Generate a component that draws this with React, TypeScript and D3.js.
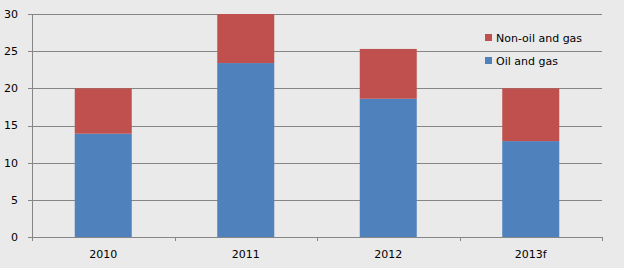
import React from "react";
import * as d3 from "d3";

const categories = ["2010", "2011", "2012", "2013f"];
const oilAndGas = [13.9, 23.4, 18.6, 12.9];
const nonOilAndGas = [6.1, 6.6, 6.7, 7.1];
const yTicks = [0, 5, 10, 15, 20, 25, 30];
const seriesNames = ["Oil and gas", "Non-oil and gas"];
const seriesColors = ["#4F81BD", "#C0504D"];

const W = 624;
const H = 268;
const left = 32;
const right = 602;
const top = 14;
const bottom = 237;
const font = "Tahoma, 'DejaVu Sans', sans-serif";

export default function App() {
  const x = d3.scaleBand<string>().domain(categories).range([left, right]).paddingInner(0.6).paddingOuter(0.3);
  const xEdge = d3.scaleLinear().domain([0, categories.length]).range([left, right]);
  const y = d3.scaleLinear().domain([0, 30]).range([bottom, top]);

  const rows = categories.map((c, i) => ({ cat: c, oil: oilAndGas[i], non: nonOilAndGas[i] }));
  const stack = d3.stack<any>().keys(["oil", "non"])(rows);

  return (
    <svg width={W} height={H} style={{ position: "absolute", left: 0, top: 0, display: "block" }}>
      <rect x={0} y={0} width={W} height={H} fill="#EAEAEA" />
      {yTicks.map((t) => (
        <g key={t}>
          <line x1={28} x2={right} y1={Math.round(y(t)) + 0.5} y2={Math.round(y(t)) + 0.5} stroke="#868686" strokeWidth={1} />
          <text x={18} y={y(t)} dy="0.35em" textAnchor="end" fontFamily={font} fontSize={11} fill="#000">
            {t}
          </text>
        </g>
      ))}
      {stack.map((s, si) =>
        s.map((d, i) => (
          <rect
            key={si + "-" + i}
            x={x(categories[i])}
            y={y(d[1])}
            width={x.bandwidth()}
            height={y(d[0]) - y(d[1])}
            fill={seriesColors[si]}
          />
        ))
      )}
      <line x1={left + 0.5} x2={left + 0.5} y1={top} y2={bottom} stroke="#868686" />
      <line x1={left} x2={right} y1={bottom + 0.5} y2={bottom + 0.5} stroke="#868686" />
      {d3.range(categories.length + 1).map((i) => (
        <line key={i} x1={Math.round(xEdge(i)) + 0.5} x2={Math.round(xEdge(i)) + 0.5} y1={bottom} y2={bottom + 4} stroke="#868686" />
      ))}
      {categories.map((c) => (
        <text key={c} x={(x(c) as number) + x.bandwidth() / 2} y={258} textAnchor="middle" fontFamily={font} fontSize={11} fill="#000">
          {c}
        </text>
      ))}
      {[1, 0].map((si, k) => (
        <g key={si}>
          <rect x={485} y={34 + k * 23} width={7} height={7} fill={seriesColors[si]} />
          <text x={496} y={38 + k * 23} dy="0.35em" fontFamily={font} fontSize={11} fill="#000">
            {seriesNames[si]}
          </text>
        </g>
      ))}
    </svg>
  );
}
